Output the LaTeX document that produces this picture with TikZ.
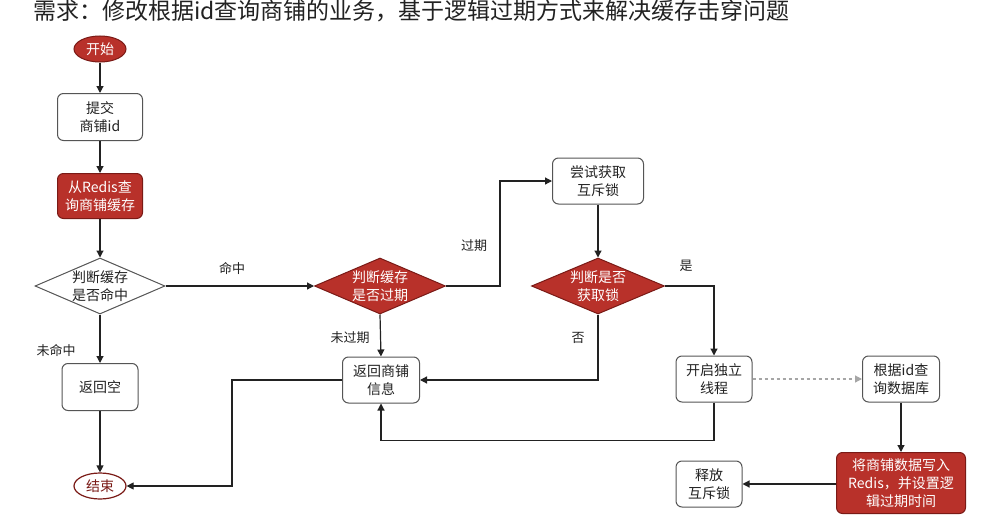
\documentclass[tikz,border=0pt]{standalone}
\usepackage{fontspec}
\setmainfont{Noto Sans CJK SC}
\usetikzlibrary{arrows.meta,shapes.geometric}
\definecolor{redfill}{HTML}{B8312A}
\definecolor{redline}{HTML}{7A1A16}
\definecolor{boxline}{HTML}{555555}
\definecolor{ink}{HTML}{222222}
\tikzset{
  every node/.style={font=\fontsize{14}{18}\selectfont, text=ink},
  wbox/.style={draw=boxline, line width=1pt, fill=white, rounded corners=6pt, align=center, inner sep=2pt},
  rbox/.style={draw=redline, line width=1pt, fill=redfill, rounded corners=6pt, align=center, inner sep=2pt, text=white},
  dia/.style={diamond, draw=boxline, line width=1pt, fill=white, inner sep=0pt},
  rdia/.style={diamond, draw=redline, line width=1pt, fill=redfill, inner sep=0pt},
  dtext/.style={align=center, inner sep=0pt},
  flow/.style={draw=ink, line width=1.2pt, -{Triangle[length=7pt,width=7pt]}},
  elabel/.style={inner sep=1pt, font=\fontsize{13}{16}\selectfont},
}
\begin{document}
\begin{tikzpicture}[x=1pt,y=-1pt]
\useasboundingbox (0,0) rectangle (996,522);
\fill[white] (0,0) rectangle (996,522);
\node[anchor=west, font=\fontsize{23}{26}\selectfont, inner sep=0pt] (title) at (33,11) {需求：修改根据id查询商铺的业务，基于逻辑过期方式来解决缓存击穿问题};

% nodes
\node[ellipse, draw=redline, line width=1pt, fill=redfill, text=white, minimum width=52pt, minimum height=26pt, inner sep=0pt] (start) at (100,49) {开始};
\node[wbox, minimum width=85pt, minimum height=47pt] (submit) at (100,117) {提交\\商铺id};
\node[rbox, minimum width=85pt, minimum height=45pt] (redis) at (100,196) {从Redis查\\询商铺缓存};
\node[dia, minimum width=130pt, minimum height=56pt] (d1) at (100,286) {};
\node[dtext] at (d1) {判断缓存\\是否命中};
\node[rdia, minimum width=131pt, minimum height=56pt] (d2) at (380,286) {};
\node[dtext, text=white] at (d2) {判断缓存\\是否过期};
\node[wbox, minimum width=91pt, minimum height=46pt] (lock) at (598,181) {尝试获取\\互斥锁};
\node[rdia, minimum width=133pt, minimum height=56pt] (d3) at (598,286) {};
\node[dtext, text=white] at (d3) {判断是否\\获取锁};
\node[wbox, minimum width=77pt, minimum height=46pt] (ret) at (381,380) {返回商铺\\信息};
\node[wbox, minimum width=76pt, minimum height=46pt] (thread) at (714,379) {开启独立\\线程};
\node[wbox, minimum width=77pt, minimum height=46pt] (db) at (901,379) {根据id查\\询数据库};
\node[rbox, minimum width=129pt, minimum height=61pt] (write) at (901,483) {将商铺数据写入\\Redis，并设置逻\\辑过期时间};
\node[wbox, minimum width=66pt, minimum height=46pt] (release) at (709,484) {释放\\互斥锁};
\node[wbox, minimum width=76pt, minimum height=47pt] (empty) at (100,387) {返回空};
\node[ellipse, draw=redline, line width=1.2pt, fill=white, text=redline, minimum width=52pt, minimum height=26pt, inner sep=0pt] (end) at (100,486) {结束};

% edges
\draw[flow] (start) -- (submit);
\draw[flow] (submit) -- (redis);
\draw[flow] (redis) -- (d1.north);
\draw[flow] (d1.east) -- (d2.west);
\node[elabel] (l1) at (232,268) {命中};
\draw[flow] (d2.east) -- ++(54,0) |- (lock.west);
\node[elabel] (l2) at (474,246) {过期};
\draw[flow] (lock) -- (d3.north);
\draw[flow] (d3.east) -| (thread.north);
\node[elabel] (l3) at (686,266) {是};
\draw[flow] (d3.south) |- (ret.east);
\node[elabel] (l4) at (578,338) {否};
\draw[flow] (d2.south) -- (ret.north);
\node[elabel] (l5) at (350,338) {未过期};
\draw[flow] (thread.south) -- ++(0,38) -| (ret.south);
\draw[draw=gray!70, line width=1.2pt, dashed, -{Triangle[length=7pt,width=7pt]}] (thread.east) -- (db.west);
\draw[flow] (db) -- (write);
\draw[flow] (write.west |- release.east) -- (release.east);
\draw[flow] (ret.west) -- ++(-110,0) |- (end.east);
\draw[flow] (d1.south) -- (empty.north);
\node[elabel] (l6) at (56,350) {未命中};
\draw[flow] (empty) -- (end);
\end{tikzpicture}
\end{document}
